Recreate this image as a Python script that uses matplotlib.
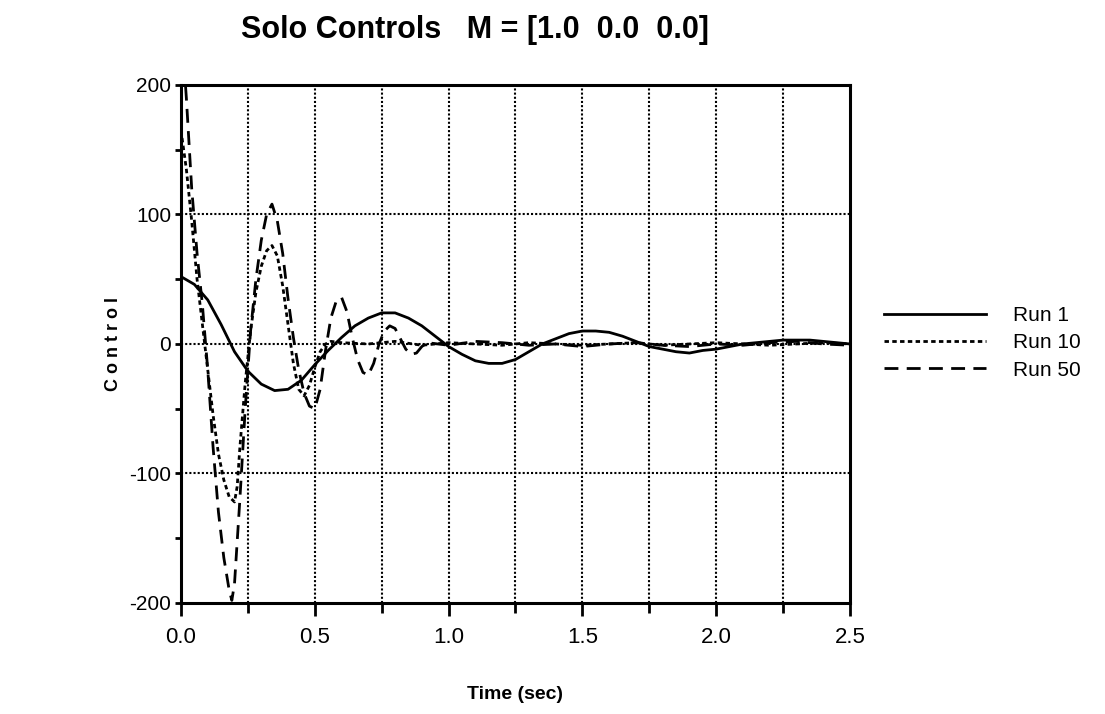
import matplotlib
matplotlib.use("Agg")
import matplotlib.pyplot as plt

plt.rcParams['font.family'] = ['Liberation Sans', 'DejaVu Sans']
plt.rcParams['axes.unicode_minus'] = False

# values
t_run1 = [0.0, 0.05, 0.1, 0.15, 0.2, 0.25, 0.3, 0.35, 0.4, 0.45, 0.5, 0.55, 0.6, 0.65,
          0.7, 0.75, 0.8, 0.85, 0.9, 0.95, 1.0, 1.05, 1.1, 1.15, 1.2, 1.25, 1.3, 1.35,
          1.4, 1.45, 1.5, 1.55, 1.6, 1.65, 1.7, 1.75, 1.8, 1.85, 1.9, 1.95, 2.0, 2.05,
          2.1, 2.15, 2.2, 2.25, 2.3, 2.35, 2.4, 2.45, 2.5]
run1 = [52, 46, 34, 15, -6, -21, -31, -36, -35, -28, -16, -5, 5, 14,
        20, 24, 24, 20, 14, 6, -2, -8, -13, -15, -15, -12, -6, 0,
        4, 8, 10, 10, 9, 6, 2, -2, -4, -6, -7, -5, -4, -2,
        0, 1, 2, 3, 3, 3, 2, 1, 0]

t_run10 = [0.0, 0.02, 0.04, 0.06, 0.08, 0.1, 0.12, 0.14, 0.16, 0.18, 0.2, 0.21, 0.22,
           0.24, 0.26, 0.28, 0.3, 0.32, 0.34, 0.36, 0.38, 0.4, 0.42, 0.44, 0.46, 0.48,
           0.5, 0.52, 0.54, 0.56, 0.6, 0.7, 0.8, 0.9, 1.0, 1.1, 1.2, 1.3, 1.4, 1.5,
           1.6, 1.7, 1.8, 1.9, 2.0, 2.1, 2.2, 2.3, 2.4, 2.5]
run10 = [165, 135, 95, 50, 15, -20, -55, -85, -105, -118, -122, -110, -80,
         -30, 10, 40, 60, 72, 76, 68, 45, 15, -15, -35, -40, -32,
         -18, -6, 0, 2, 1, 0, 2, -1, 1, 0, -1, 1, 0, -1,
         0, 1, -1, 0, 1, 0, -1, 0, 1, 0]

t_run50 = [0.0, 0.02, 0.04, 0.06, 0.08, 0.1, 0.12, 0.14, 0.16, 0.18, 0.19, 0.2, 0.22,
           0.24, 0.26, 0.28, 0.3, 0.32, 0.34, 0.36, 0.38, 0.4, 0.42, 0.44, 0.46, 0.48,
           0.5, 0.52, 0.54, 0.56, 0.58, 0.6, 0.62, 0.64, 0.66, 0.68, 0.7, 0.72, 0.74,
           0.76, 0.78, 0.8, 0.82, 0.84, 0.86, 0.88, 0.9, 0.92, 1.0, 1.1, 1.2, 1.3,
           1.4, 1.5, 1.6, 1.7, 1.8, 1.9, 2.0, 2.1, 2.2, 2.3, 2.4, 2.5]
run50 = [250, 190, 120, 70, 30, -20, -80, -130, -165, -190, -198, -185, -120,
         -50, 10, 50, 80, 100, 108, 95, 70, 35, 5, -20, -38, -48,
         -50, -35, -5, 20, 33, 36, 25, 5, -12, -22, -24, -15, 0,
         10, 14, 12, 4, -4, -8, -7, -2, 1, -1, 2, 1, -1,
         0, -2, 0, 1, -1, -2, 0, -1, 1, 2, 0, -1]

fig = plt.figure(figsize=(11.05, 7.14), dpi=100)
ax = fig.add_axes([0.1638, 0.1555, 0.6054, 0.7255])

ax.plot(t_run1, run1, color='black', lw=2.0, label='Run 1')
ax.plot(t_run10, run10, color='black', lw=2.0, linestyle=(0, (1.6, 1.2)), label='Run 10')
ax.plot(t_run50, run50, color='black', lw=2.0, linestyle=(0, (5, 3)), label='Run 50')

ax.set_xlim(0, 2.5)
ax.set_ylim(-200, 200)
ax.set_xticks([0.0, 0.5, 1.0, 1.5, 2.0, 2.5])
ax.set_xticklabels(['0.0', '0.5', '1.0', '1.5', '2.0', '2.5'])
ax.set_xticks([0.25, 0.75, 1.25, 1.75, 2.25], minor=True)
ax.set_yticks([-200, -100, 0, 100, 200])
ax.set_yticks([-150, -50, 50, 150], minor=True)

for x in [0.25, 0.5, 0.75, 1.0, 1.25, 1.5, 1.75, 2.0, 2.25]:
    ax.axvline(x, color='black', lw=1.5, linestyle=(0, (1, 1)), zorder=0)
for y in [-100, 0, 100]:
    ax.axhline(y, color='black', lw=1.5, linestyle=(0, (1, 1)), zorder=0)

for s in ax.spines.values():
    s.set_linewidth(2.2)
ax.tick_params(axis='x', which='major', direction='out', length=9, width=2, labelsize=16, pad=8)
ax.tick_params(axis='x', which='minor', direction='out', length=7, width=2)
ax.tick_params(axis='y', which='major', direction='out', length=4, width=2, labelsize=15, pad=3)
ax.tick_params(axis='y', which='minor', direction='out', length=4, width=2)

fig.text(0.43, 0.958, 'Solo Controls   M = [1.0  0.0  0.0]', fontsize=22,
         fontweight='bold', ha='center', va='center')
ax.set_xlabel('Time (sec)', fontsize=14, fontweight='bold', labelpad=28)
fig.text(0.103, 0.518, 'C o n t r o l', rotation=90, fontsize=13, fontweight='bold',
         ha='center', va='center')

fig.legend(loc='center left', bbox_to_anchor=(0.80, 0.52), frameon=False,
           borderpad=0, borderaxespad=0,
           fontsize=15, handlelength=4.9, handletextpad=1.3, labelspacing=0.4)

fig.savefig('out.png', dpi=100)
